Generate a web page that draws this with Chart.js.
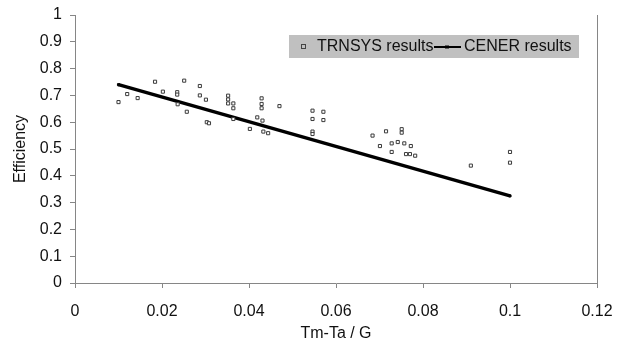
<!DOCTYPE html>
<html>
<head>
<meta charset="utf-8">
<script src="https://cdn.jsdelivr.net/npm/chart.js@4.4.0/dist/chart.umd.min.js"></script>
<style>
  html, body { margin: 0; padding: 0; background: #fff; }
  #wrap { width: 623px; height: 344px; }
</style>
</head>
<body>
<div id="wrap"><canvas id="grafico" width="623" height="344"></canvas></div>
<script>
// === Dados ===
const xTickValues = [0, 0.02, 0.04, 0.06, 0.08, 0.1, 0.12];
const xTickLabels = ['0', '0.02', '0.04', '0.06', '0.08', '0.1', '0.12'];
const yTickValues = [0, 0.1, 0.2, 0.3, 0.4, 0.5, 0.6, 0.7, 0.8, 0.9, 1];
const yTickLabels = ['0', '0.1', '0.2', '0.3', '0.4', '0.5', '0.6', '0.7', '0.8', '0.9', '1'];

const trnsysX = [0.010, 0.012, 0.0144, 0.0184, 0.0202, 0.0235, 0.0235, 0.0251, 0.0236, 0.0257,
  0.0287, 0.0287, 0.0301, 0.0303, 0.0308, 0.0352, 0.0352, 0.0352, 0.0364, 0.0364,
  0.0364, 0.0402, 0.0429, 0.0429, 0.0429, 0.0419, 0.0431, 0.0433, 0.0444, 0.0470,
  0.0546, 0.0546, 0.0546, 0.0546, 0.0571, 0.0571, 0.0684, 0.0715, 0.0701, 0.0728,
  0.0728, 0.0742, 0.0751, 0.0751, 0.0757, 0.0772, 0.0761, 0.0770, 0.0782, 0.091,
  0.1, 0.1];
const trnsysY = [0.675, 0.705, 0.69, 0.751, 0.714, 0.712, 0.703, 0.755, 0.667, 0.639,
  0.735, 0.70, 0.684, 0.60, 0.596, 0.699, 0.685, 0.670, 0.670, 0.652,
  0.612, 0.575, 0.689, 0.668, 0.652, 0.618, 0.606, 0.565, 0.559, 0.660,
  0.643, 0.612, 0.565, 0.556, 0.639, 0.608, 0.550, 0.566, 0.511, 0.521,
  0.489, 0.526, 0.574, 0.561, 0.521, 0.511, 0.481, 0.481, 0.475, 0.438,
  0.489, 0.449];

const cenerX = [0.01, 0.1];
const cenerY = [0.74, 0.325];

const legendLabels = ['TRNSYS results', 'CENER results'];

// === Config ===
const FONT = 'Liberation Sans, Arial, Helvetica, sans-serif';
const AXIS = '#868686';

const toPoints = (xs, ys) => xs.map((x, i) => ({ x: x, y: ys[i] }));

// moldura direita + legenda cinza
const extras = {
  id: 'extras',
  afterDraw(chart) {
    const ctx = chart.ctx;
    const a = chart.chartArea;
    ctx.save();
    ctx.strokeStyle = AXIS;
    ctx.lineWidth = 1;
    ctx.beginPath();
    ctx.moveTo(Math.round(a.right) + 0.5, a.top);
    ctx.lineTo(Math.round(a.right) + 0.5, a.bottom);
    ctx.stroke();

    // legenda
    ctx.fillStyle = '#c0c0c0';
    ctx.fillRect(289, 35, 290, 23);
    const cy = 47;
    ctx.fillStyle = '#fff';
    ctx.strokeStyle = '#444';
    ctx.strokeRect(301.5, cy - 2.5, 4, 4);
    ctx.fillStyle = '#111';
    ctx.font = '16px ' + FONT;
    ctx.textBaseline = 'middle';
    ctx.fillText(legendLabels[0], 317, cy);
    ctx.strokeStyle = '#000';
    ctx.lineWidth = 2;
    ctx.beginPath();
    ctx.moveTo(434, cy);
    ctx.lineTo(461, cy);
    ctx.stroke();
    ctx.fillStyle = '#000';
    ctx.fillRect(445, cy - 1.5, 4, 3);
    ctx.fillStyle = '#111';
    ctx.fillText(legendLabels[1], 464, cy);
    ctx.restore();
  }
};

new Chart(document.getElementById('grafico'), {
  type: 'scatter',
  data: {
    datasets: [{
      label: legendLabels[0],
      data: toPoints(trnsysX, trnsysY),
      pointStyle: 'rect',
      pointRadius: 2.2,
      borderWidth: 1,
      borderColor: '#3a3a3a',
      backgroundColor: '#fff'
    }, {
      label: legendLabels[1],
      data: toPoints(cenerX, cenerY),
      showLine: true,
      borderColor: '#000',
      borderWidth: 3.5,
      pointStyle: 'rect',
      pointRadius: 1.5,
      pointBorderWidth: 1,
      backgroundColor: '#000'
    }]
  },
  options: {
    responsive: false,
    animation: false,
    layout: { padding: { left: 0, right: 26, top: 15, bottom: 0 } },
    plugins: {
      legend: { display: false },
      tooltip: { enabled: false }
    },
    scales: {
      x: {
        type: 'linear',
        min: 0,
        max: 0.12,
        afterBuildTicks: s => { s.ticks = xTickValues.map(v => ({ value: v })); },
        afterFit: s => { s.height = 61; s.paddingLeft = 0; s.paddingRight = 0; },
        ticks: {
          callback: (v, i) => xTickLabels[i],
          color: '#111',
          font: { family: FONT, size: 16 },
          padding: 14,
          maxRotation: 0,
          autoSkip: false
        },
        grid: { drawOnChartArea: false, drawTicks: true, tickLength: 5, color: AXIS },
        border: { color: AXIS, width: 1 },
        title: {
          display: true,
          text: 'Tm-Ta / G',
          color: '#111',
          font: { family: FONT, size: 16 },
          padding: { top: 0, bottom: 1 }
        }
      },
      y: {
        type: 'linear',
        min: 0,
        max: 1,
        afterBuildTicks: s => { s.ticks = yTickValues.map(v => ({ value: v })); },
        afterFit: s => { s.width = 75; s.paddingTop = 0; s.paddingBottom = 0; },
        ticks: {
          callback: (v, i) => yTickLabels[i],
          color: '#111',
          font: { family: FONT, size: 16 },
          padding: 8,
          autoSkip: false
        },
        grid: { drawOnChartArea: false, drawTicks: true, tickLength: 5, color: AXIS },
        border: { color: AXIS, width: 1 },
        title: {
          display: true,
          text: 'Efficiency',
          color: '#111',
          font: { family: FONT, size: 16 },
          padding: { top: 11, bottom: 0 }
        }
      }
    }
  },
  plugins: [extras]
});
</script>
</body>
</html>
